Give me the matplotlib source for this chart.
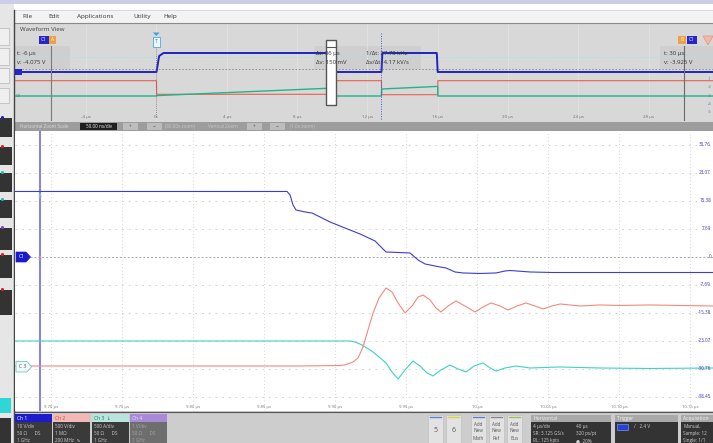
import matplotlib
matplotlib.use('Agg')
import matplotlib.pyplot as plt
from matplotlib.patches import Rectangle, Polygon

plt.rcParams['font.family'] = ['Open Sans', 'DejaVu Sans']

W, H = 713, 443

# ---------------- data: main (zoomed) view ----------------
time_ticks = [9.70, 9.75, 9.80, 9.85, 9.90, 9.95, 10.00, 10.05, 10.10, 10.15]
time_labels = ['9.70 µs', '9.75 µs', '9.80 µs', '9.85 µs', '9.90 µs', '9.95 µs',
               '10 µs', '10.05 µs', '10.10 µs', '10.15 µs']
volt_ticks = [30.76, 23.07, 15.38, 7.69, 0.0, -7.69, -15.38, -23.07, -30.76, -38.45]
volt_labels = ['30.76', '23.07', '15.38', '7.69', '0', '-7.69', '-15.38', '-23.07', '-30.76', '-38.45']

ch1_t = [9.6746, 9.8662, 9.8683, 9.8704, 9.8725, 9.8789, 9.8838, 9.8880, 9.8965, 9.9070,
         9.9176, 9.9282, 9.9359, 9.9444, 9.9528, 9.9585, 9.9634, 9.9739, 9.9782, 9.9845,
         9.9901, 10.0021, 10.0134, 10.0197, 10.0232, 10.0373, 10.0535, 10.1662]
ch1_v = [17.99, 17.99, 17.03, 14.28, 12.91, 12.36, 12.08, 11.26, 9.61, 7.96,
         6.32, 4.39, 1.37, 1.24, 1.10, -0.82, -1.92, -2.75, -3.02, -4.12,
         -4.39, -4.53, -4.39, -3.85, -3.71, -4.12, -4.26, -4.26]

ch2_t = [9.6746, 9.8754, 9.9035, 9.9070, 9.9127, 9.9162, 9.9197, 9.9232, 9.9268, 9.9310,
         9.9359, 9.9401, 9.9444, 9.9493, 9.9542, 9.9585, 9.9620, 9.9669, 9.9711, 9.9746,
         9.9796, 9.9852, 9.9915, 9.9986, 10.0042, 10.0099, 10.0162, 10.0218, 10.0282, 10.0345,
         10.0408, 10.0465, 10.0528, 10.0585, 10.0725, 10.0866, 10.1007, 10.1218, 10.1662]
ch2_v = [-29.94, -29.94, -29.80, -29.66, -28.84, -27.74, -24.72, -20.05, -15.38, -11.26,
         -8.51, -9.61, -12.63, -15.38, -13.46, -10.99, -10.44, -11.81, -14.01, -15.11,
         -13.46, -12.08, -13.46, -15.11, -13.73, -12.63, -13.46, -14.56, -13.46, -12.63,
         -13.46, -14.28, -13.46, -12.91, -13.46, -13.18, -13.32, -13.18, -13.46]

ch3_t = [9.6746, 9.9106, 9.9141, 9.9190, 9.9268, 9.9359, 9.9401, 9.9444, 9.9493, 9.9549,
         9.9599, 9.9648, 9.9690, 9.9746, 9.9810, 9.9866, 9.9923, 9.9979, 10.0042, 10.0092,
         10.0134, 10.0197, 10.0275, 10.0373, 10.0585, 10.0866, 10.1218, 10.1662]
ch3_v = [-23.07, -23.07, -23.34, -24.17, -26.09, -29.11, -31.58, -33.51, -31.03, -28.56,
         -29.94, -31.86, -32.68, -31.03, -29.66, -30.76, -31.58, -29.94, -29.11, -30.49,
         -31.31, -30.49, -29.94, -30.49, -30.21, -30.49, -30.62, -30.49]

cursor_t = 9.6923

# ---------------- data: overview (waveform view) ----------------
ov_ticks = [-4, 0, 4, 8, 12, 16, 20, 24, 28]
ov_labels = ['-4 µs', '0s', '4 µs', '8 µs', '12 µs', '16 µs', '20 µs', '24 µs', '28 µs']
ov_ch1_t = [-8.05, 0.0, 0.15, 0.4, 9.85, 9.9, 12.8, 12.85, 15.95, 16.0, 31.7]
ov_ch1_y = [72, 72, 56, 53, 53, 72, 72, 53, 53, 72, 72]
ov_ch2_t = [-8.05, 0.0, 0.01, 9.85, 9.9, 12.8, 12.81, 16.0, 16.01, 31.7]
ov_ch2_y = [80.7, 80.7, 94.3, 94.3, 80.7, 80.7, 94.7, 94.7, 80.7, 80.7]
ov_ch3_t = [-8.05, 0.0, 0.01, 9.85, 9.9, 12.8, 12.81, 16.0, 16.01, 31.7]
ov_ch3_y = [96, 96, 95.6, 88.2, 96, 96, 89, 86.4, 96, 96]
cursor_a_t, cursor_b_t, mid_cursor_t = -6, 30, 12.8
zoom_window = (9.675, 10.167)

# ---------------- figure ----------------
fig = plt.figure(figsize=(W / 100, H / 100), dpi=100)
fig.patch.set_facecolor('white')


def px_axes(x0, y0, x1, y1, z):
    ax = fig.add_axes([x0 / W, 1 - y1 / H, (x1 - x0) / W, (y1 - y0) / H], zorder=z)
    return ax


bg = px_axes(0, 0, W, H, 0)
bg.set_xlim(0, W); bg.set_ylim(H, 0); bg.axis('off')
top = px_axes(0, 0, W, H, 5)
top.set_xlim(0, W); top.set_ylim(H, 0); top.axis('off'); top.patch.set_alpha(0)


def rect(ax, x0, y0, x1, y1, fc, ec='none', lw=0.0, z=1):
    ax.add_patch(Rectangle((x0, y0), x1 - x0, y1 - y0, facecolor=fc, edgecolor=ec, linewidth=lw, zorder=z))


def txt(ax, x, y, s, size=3.5, color='#333333', ha='left', va='center', z=3, **kw):
    ax.text(x, y, s, fontsize=size, color=color, ha=ha, va=va, zorder=z, **kw)


# top strip / menu
rect(bg, 0, 0, W, 3.5, '#cdcde8')
rect(bg, 15, 10, W, 23, '#f3f3f3')
bg.plot([15, W], [10, 10], color='#d0d0d0', lw=0.5)
bg.plot([15, W], [23, 23], color='#8a8a8a', lw=0.8)
for x, s in [(22, 'File'), (48, 'Edit'), (77, 'Applications'), (133, 'Utility'), (163, 'Help')]:
    txt(bg, x, 16.5, s, size=4.6, color='#333333')

# left strip
rect(bg, 0, 4, 14, H, '#e6e6e6')
bg.plot([14, 14], [10, H], color='#444444', lw=1.0)
for y0, y1 in [(28, 45), (48, 65), (68, 83), (88, 103)]:
    rect(bg, -1, y0, 9, y1, '#efefef', ec='#b5b5b5', lw=0.5)
dots = ['#2020d0', '#e02020', '#20c0b0', '#20c0b0', '#8040e0', '#e02020', '#e02020']
for (y0, y1), c in zip([(118, 137), (147, 165), (173, 192), (200, 218), (228, 250), (255, 278), (290, 315)], dots):
    rect(bg, 0, y0, 12, y1, '#333333')
    bg.scatter([1.5], [y0 - 1], s=5, color=c, zorder=3, linewidths=0)
rect(bg, 0, 398, 11, 413, '#2ed6d6')
rect(bg, 0, 418, 11, H, '#333333')

# overview background
rect(bg, 15, 23.5, W, 122, '#d8d8d8')
txt(bg, 20, 29, 'Waveform View', size=4.4, color='#444444')
rect(bg, 15, 46, 70, 69, '#cfcfcf')
rect(bg, 314, 46, 421, 69, '#cfcfcf')
rect(bg, 660, 46, W, 69, '#cfcfcf')

# zoom bar
rect(bg, 15, 121.5, W, 131, '#9d9d9d')
txt(bg, 20, 126.4, 'Horizontal Zoom Scale', size=3.3, color='#dcdcdc')
rect(bg, 80, 123, 117, 130, '#202020')
txt(bg, 98.5, 126.4, '50.00 ns/div', size=3.3, color='#f0f0f0', ha='center')
for x0, s in [(123, '+'), (147, '−'), (247, '+'), (270, '−')]:
    rect(bg, x0, 123, x0 + 15, 130, '#bdbdbd')
    txt(bg, x0 + 7.5, 126.4, s, size=3.5, color='#555555', ha='center')
txt(bg, 165, 126.4, '(80.00x zoom)', size=3.3, color='#c8c8c8')
txt(bg, 208, 126.4, 'Vertical Zoom', size=3.3, color='#c8c8c8')
txt(bg, 290, 126.4, '(1.0x zoom)', size=3.3, color='#c8c8c8')

# bottom bar
rect(bg, 15, 411, W, H, '#cdcdcd')
bg.plot([15, W], [411.5, 411.5], color='#555555', lw=0.8)
chs = [
    (15, 'Ch 1', '#1c1ccc', '#ffffff', '#3a3a3a', '#cfcfcf', ['10 V/div', '50 Ω      DS', '1 GHz']),
    (53, 'Ch 2', '#f2b8b4', '#c84848', '#3a3a3a', '#cfcfcf', ['500 V/div', '1 MΩ', '200 MHz  ∿']),
    (92, 'Ch 3  ↓', '#b8e4dc', '#207868', '#3a3a3a', '#cfcfcf', ['500 A/div', '50 Ω      DS', '1 GHz']),
    (130, 'Ch 4', '#a88ad8', '#ece4fa', '#6e6e6e', '#a8a8a8', ['1 V/div', '50 Ω      DS', '1 GHz']),
]
for x0, name, hc, htc, bc, btc, lines in chs:
    rect(bg, x0, 414, x0 + 37, 422, hc)
    rect(bg, x0, 422, x0 + 37, H, bc)
    txt(bg, x0 + 2, 418, name, size=3.6, color=htc)
    for k, s in enumerate(lines):
        txt(bg, x0 + 2, 426.5 + 7 * k, s, size=3.3, color=btc)
for x0, s, c in [(428, '5', '#5a84d0'), (446, '6', '#d6d640')]:
    rect(bg, x0, 415, x0 + 15, H, '#e2e2e2', ec='#bbbbbb', lw=0.4)
    bg.plot([x0 + 2, x0 + 13], [416.5, 416.5], color=c, lw=1.0, zorder=3)
    txt(bg, x0 + 7.5, 430, s, size=5, color='#555555', ha='center')
for x0, s, c in [(471, 'Math', '#6080c0'), (489, 'Ref', '#888888'), (507, 'Bus', '#a0c060')]:
    rect(bg, x0, 415, x0 + 15, H, '#e2e2e2', ec='#bbbbbb', lw=0.4)
    bg.plot([x0 + 2, x0 + 13], [416.5, 416.5], color=c, lw=1.0, zorder=3)
    for k, w in enumerate(['Add', 'New', s]):
        txt(bg, x0 + 7.5, 424 + 7 * k, w, size=3.3, color='#555555', ha='center')
# horizontal panel
rect(bg, 531, 415, 611, 422, '#a9a9a9')
rect(bg, 531, 422, 611, H, '#333333')
txt(bg, 533, 418.5, 'Horizontal', size=3.6, color='#f4f4f4')
for k, (a, b) in enumerate([('4 µs/div', '40 µs'), ('SR: 3.125 GS/s', '320 ps/pt'), ('RL: 125 kpts', '●  20%')]):
    txt(bg, 533, 426.5 + 7 * k, a, size=3.3, color='#d0d0d0')
    txt(bg, 576, 426.5 + 7 * k, b, size=3.3, color='#d0d0d0')
# trigger panel
rect(bg, 615, 415, 678, 422, '#a9a9a9')
rect(bg, 615, 422, 678, H, '#333333')
txt(bg, 617, 418.5, 'Trigger', size=3.6, color='#f4f4f4')
rect(bg, 617, 423.5, 628, 429.5, '#2a40d0', ec='#7090ff', lw=0.5)
txt(bg, 634, 426.5, '/   2.4 V', size=3.3, color='#d0d0d0')
# acquisition panel
rect(bg, 681, 415, W + 2, 422, '#a9a9a9')
rect(bg, 681, 422, W + 2, H, '#333333')
txt(bg, 683, 418.5, 'Acquisition', size=3.6, color='#f4f4f4')
for k, s in enumerate(['Manual,', 'Sample: 12', 'Single: 1/1']):
    txt(bg, 683, 426.5 + 7 * k, s, size=3.3, color='#d0d0d0')

# ---------------- overview axes ----------------
ov = px_axes(15, 24, W, 121, 2)
ov.set_xlim(-8.051, 31.665)
ov.set_ylim(121, 24)
ov.axis('off'); ov.patch.set_alpha(0)
for t, lab in zip(ov_ticks, ov_labels):
    ov.axvline(t, color='#e4e4e4', lw=0.5, zorder=0)
    ov.text(t, 117, lab, fontsize=3.2, color='#707070', ha='center', va='center')
ov.axhline(57, color='#9ee6ee', lw=0.7, ls=(0, (1.5, 1.5)), zorder=1)
ov.axhline(69, color='#8a8a8a', lw=0.6, ls=(0, (2, 2)), zorder=1)
ov.plot(ov_ch2_t, ov_ch2_y, color='#e8604e', lw=0.8, zorder=2)
ov.plot(ov_ch3_t, ov_ch3_y, color='#1fb48e', lw=1.0, zorder=3)
ov.plot(ov_ch1_t, ov_ch1_y, color='#2222c0', lw=1.4, zorder=4)
ov.plot([cursor_a_t, cursor_a_t], [46, 121], color='#7a7a7a', lw=0.8, zorder=5)
ov.plot([cursor_b_t, cursor_b_t], [46, 121], color='#6a6a6a', lw=0.8, zorder=5)
ov.plot([0, 0], [47, 116], color='#666666', lw=0.6, ls=(0, (1, 1.5)), zorder=5)
ov.plot([mid_cursor_t, mid_cursor_t], [33, 121], color='#3a5ad0', lw=0.7, ls=(0, (1, 1.5)), zorder=5)
ov.add_patch(Rectangle((zoom_window[0] - 0.02, 39.5), zoom_window[1] - zoom_window[0] + 0.04, 66,
                       facecolor='white', edgecolor='#555555', linewidth=1.0, zorder=6))
ov.plot([zoom_window[0] - 0.02, zoom_window[1] + 0.02], [47, 47], color='#555555', lw=0.8, zorder=7)

# overview labels (on top)
txt(top, 17, 53, 't: -6 µs', size=4.3, color='#333333')
txt(top, 17, 62, 'v: -4.075 V', size=4.3, color='#333333')
txt(top, 316, 53, 'Δt: 36 µs', size=4.3, color='#333333')
txt(top, 316, 62, 'Δv: 150 mV', size=4.3, color='#333333')
txt(top, 366, 53, '1/Δt: 27.78 kHz', size=4.3, color='#333333')
txt(top, 366, 62, 'Δv/Δt: 4.17 kV/s', size=4.3, color='#333333')
txt(top, 664, 53, 't: 30 µs', size=4.3, color='#333333')
txt(top, 664, 62, 'v: -3.925 V', size=4.3, color='#333333')
rect(top, 39, 35.5, 48.5, 43.5, '#2626c8')
txt(top, 43.7, 39.5, 'C1', size=3.5, color='white', ha='center')
rect(top, 49, 35.5, 56, 43.5, '#f0a040')
txt(top, 52.5, 39.5, 'A', size=3.5, color='#fff4e0', ha='center')
rect(top, 678, 35.5, 685.5, 43.5, '#f0a040')
txt(top, 681.7, 39.5, 'B', size=3.5, color='#fff4e0', ha='center')
rect(top, 686.5, 35.5, 697, 43.5, '#2626c8')
txt(top, 691.7, 39.5, 'C1', size=3.5, color='white', ha='center')
top.add_patch(Polygon([(703, 36), (713, 36), (708, 45)], closed=True, facecolor='#f4b8a8', edgecolor='#e89080', lw=0.5, zorder=3))
top.add_patch(Polygon([(153, 32.5), (159.5, 32.5), (156.3, 36)], closed=True, facecolor='#3f9ee0', zorder=3))
rect(top, 152.5, 36.5, 160, 47, '#eef6fc', ec='#4aa8e0', lw=0.6, z=3)
txt(top, 156.3, 41.8, 'T', size=4, color='#3090d0', ha='center', z=4)
rect(top, 15, 69, 22, 75, '#2626c8')
txt(top, 16, 96, 'C3', size=3, color='#3a7a70')
for k, s in enumerate(['-1', '-2', '-3', '-4', '-5']):
    txt(top, 712, [79, 87, 96, 104, 112][k], s, size=3, color='#6a6aaa', ha='right')

# ---------------- main axes ----------------
ax = px_axes(15, 131, W, 411, 2)
ax.set_xlim(9.6746, 10.1662)
ax.set_ylim(-42.30, 34.60)
ax.set_facecolor('white')
for s in ax.spines.values():
    s.set_visible(False)
ax.set_xticks([]); ax.set_yticks([])
for t in time_ticks:
    ax.axvline(t, color='#c9c9c9', lw=0.6, ls=(0, (1, 3)), zorder=0)
for v in volt_ticks:
    if v == 0:
        continue
    ax.axhline(v, color='#c9c9c9', lw=0.6, ls=(0, (2, 6)), zorder=0)
ax.plot([9.685, 10.1662], [0, 0], color='#a8a8a8', lw=0.7, ls=(0, (2, 2)), zorder=1)
ax.axvline(cursor_t, color='#6b6be6', lw=1.2, zorder=2)
ax.plot(ch3_t, ch3_v, color='#3ed4c2', lw=0.8, zorder=3)
ax.plot(ch2_t, ch2_v, color='#f28a7c', lw=0.8, zorder=3)
ax.plot(ch1_t, ch1_v, color='#3c3cd2', lw=0.8, zorder=4)
for t, s in zip(time_ticks, time_labels):
    ax.text(t, 0.014, s, transform=ax.get_xaxis_transform(), fontsize=3.1, color='#777777', ha='center', va='center')
for v, s in zip(volt_ticks, volt_labels):
    ax.text(0.997, v, s, transform=ax.get_yaxis_transform(), fontsize=3.3, color='#3a3ab8', ha='right', va='center')
ax.text(cursor_t, 16.5, '25', fontsize=3.3, color='#9ee4ee', ha='center', va='center')
ax.text(cursor_t, -0.5, '25', fontsize=3.3, color='#f4a8a0', ha='center', va='center')

# channel markers in main view
top.add_patch(Polygon([(16, 252), (26, 252), (30.5, 257), (26, 262), (16, 262)], closed=True,
                      facecolor='#1a1acd', edgecolor='#1a1acd', lw=0.5, zorder=3))
txt(top, 21.5, 257, 'C1', size=3.6, color='white', ha='center', z=4)
top.add_patch(Polygon([(16, 361.5), (27, 361.5), (31.5, 366.8), (27, 372), (16, 372)], closed=True,
                      facecolor='#effaf7', edgecolor='#70c8b8', lw=0.6, zorder=3))
txt(top, 22.5, 366.8, 'C 3', size=3.6, color='#335555', ha='center', z=4)

fig.savefig('out.png', dpi=100)
